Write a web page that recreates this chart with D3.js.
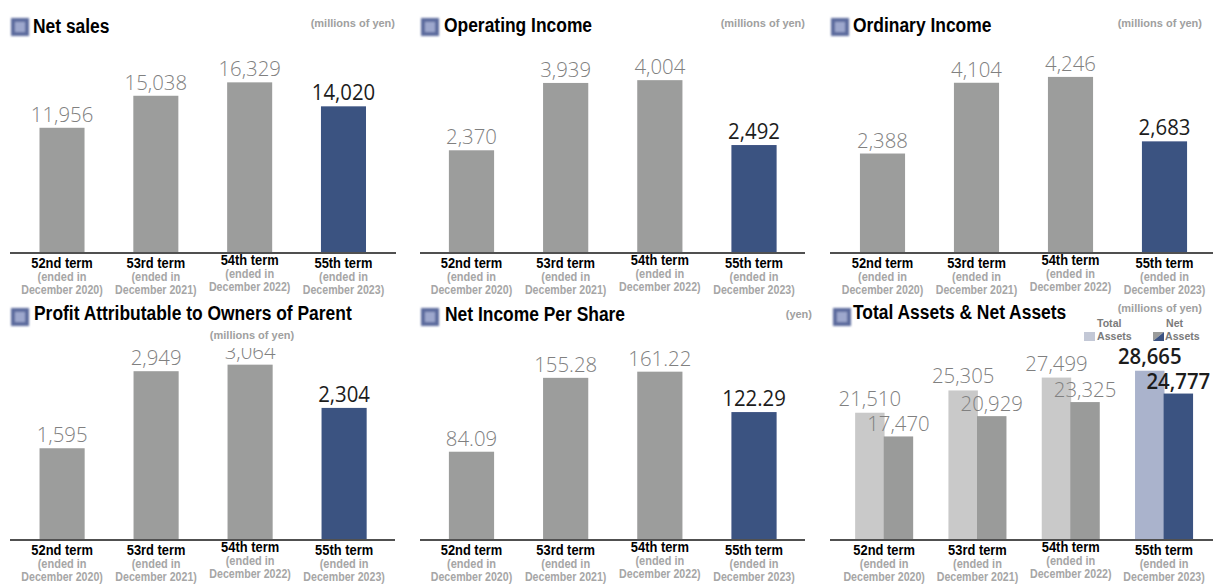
<!DOCTYPE html>
<html><head><meta charset="utf-8">
<script src="https://cdn.jsdelivr.net/npm/d3@7"></script>
<style>html,body{margin:0;padding:0;background:#fff;} svg{display:block;}</style>
</head><body><svg id="c" width="1213" height="584"></svg>
<script>
// ---------- data ----------
const terms = ["52nd term", "53rd term", "54th term", "55th term"];
const endedLine = ["(ended in", "(ended in", "(ended in", "(ended in"];
const endedDate = ["December 2020)", "December 2021)", "December 2022)", "December 2023)"];
const netSales = [11956, 15038, 16329, 14020];
const operatingIncome = [2370, 3939, 4004, 2492];
const ordinaryIncome = [2388, 4104, 4246, 2683];
const profitOwners = [1595, 2949, 3064, 2304];
const netIncomePerShare = [84.09, 155.28, 161.22, 122.29];
const totalAssets = [21510, 25305, 27499, 28665];
const netAssets = [17470, 20929, 23325, 24777];
const titles = ["Net sales", "Operating Income", "Ordinary Income",
  "Profit Attributable to Owners of Parent", "Net Income Per Share", "Total Assets & Net Assets"];
const units = ["(millions of yen)", "(millions of yen)", "(millions of yen)",
  "(millions of yen)", "(yen)", "(millions of yen)"];
const legendLabels = [["Total", "Assets"], ["Net", "Assets"]];

// ---------- layout / style ----------
const FONT = "'Liberation Sans', Arial, Helvetica, sans-serif";
const NUMFONT = "'Open Sans', 'Liberation Sans', Arial, sans-serif";
const C = { bar: "#9c9d9c", navy: "#3b5281", light: "#c9c9c9", lightBlue: "#aab3cc",
  netGray: "#9a9b9a", val: "#808080", valDark: "#1c1c1c", sub: "#a6a6a6", axis: "#505050" };
const catDy = [0, 0, -3, 0];

const panels = [
  { values: netSales, fmt: d3.format(","), icon: [11, 18], title: [33, 33], unit: [395, 27, "end"],
    base: 252, ymax: 19250, band: [15.1, 390.4], axis: [10, 396] },
  { values: operatingIncome, fmt: d3.format(","), icon: [421, 18], title: [444, 32], unit: [805, 27, "end"],
    base: 252, ymax: 4660, band: [424.4, 801.1], axis: [420, 805] },
  { values: ordinaryIncome, fmt: d3.format(","), icon: [831, 18], title: [853, 32], unit: [1202, 27, "end"],
    base: 252, ymax: 4850, band: [835.5, 1211.5], axis: [830, 1213] },
  { values: profitOwners, fmt: d3.format(","), icon: [11, 308], title: [34, 320], unit: [252, 339, "middle"],
    base: 539, ymax: 3515, band: [15.1, 391.1], axis: [10, 395], clipTop: 348 },
  { values: netIncomePerShare, fmt: d3.format(".2f"), icon: [421, 308], title: [445, 321], unit: [812, 318, "end"],
    base: 539, ymax: 192.7, band: [424.4, 801.1], axis: [420, 805] },
  { grouped: true, values: totalAssets, values2: netAssets, fmt: d3.format(","), icon: [833, 308], title: [853, 319],
    unit: [1202, 312, "end"], base: 539, ymax: 34070, band: [837.5, 1210.7], axis: [830, 1213] }
];

const svg = d3.select("#c");
svg.append("rect").attr("width", 1213).attr("height", 584).attr("fill", "#fff");
const defs = svg.append("defs");
defs.append("filter").attr("id", "soft").append("feGaussianBlur").attr("stdDeviation", 0.8);
defs.append("filter").attr("id", "soft2").append("feGaussianBlur").attr("stdDeviation", 0.35);

function txt(g, x, y, s, o) {
  return g.append("text")
    .attr("transform", `translate(${x},${y}) scale(${o.sx || 1},1)`)
    .attr("text-anchor", o.anchor || "start")
    .attr("font-family", o.family || FONT)
    .attr("font-size", o.size)
    .attr("font-weight", o.weight || "normal")
    .attr("fill", o.fill || "#000")
    .text(s);
}

panels.forEach((p, pi) => {
  const g = svg.append("g");
  const x = d3.scaleBand().domain(terms).range(p.band).paddingInner(p.grouped ? 0.378 : 0.52).paddingOuter(p.grouped ? 0.189 : 0.26);
  const y = d3.scaleLinear().domain([0, p.ymax]).range([p.base, p.base - 200]);

  // bars
  const barsG = g.append("g").attr("filter", "url(#soft2)");
  if (!p.grouped) {
    barsG.selectAll("rect").data(p.values).join("rect")
      .attr("x", (d, i) => x(terms[i])).attr("width", x.bandwidth())
      .attr("y", d => y(d)).attr("height", d => y(0) - y(d))
      .attr("fill", (d, i) => i === terms.length - 1 ? C.navy : C.bar);
  } else {
    const x1 = d3.scaleBand().domain(["total", "net"]).range([0, x.bandwidth()]).paddingInner(-0.03);
    const rows = terms.map((t, i) => ({ t, i, total: p.values[i], net: p.values2[i] }));
    const grp = barsG.selectAll("g").data(rows).join("g").attr("transform", d => `translate(${x(d.t)},0)`);
    grp.append("rect").attr("x", x1("total")).attr("width", x1.bandwidth())
      .attr("y", d => y(d.total)).attr("height", d => y(0) - y(d.total))
      .attr("fill", d => d.i === terms.length - 1 ? C.lightBlue : C.light);
    grp.append("rect").attr("x", x1("net")).attr("width", x1.bandwidth())
      .attr("y", d => y(d.net)).attr("height", d => y(0) - y(d.net))
      .attr("fill", d => d.i === terms.length - 1 ? C.navy : C.netGray);
    p.sub = x1;
  }

  // axis baseline
  g.append("line").attr("x1", p.axis[0]).attr("x2", p.axis[1]).attr("y1", p.base + 1).attr("y2", p.base + 1)
    .attr("stroke", C.axis).attr("stroke-width", 2);

  // value labels
  const last = terms.length - 1;
  let vg = g.append("g");
  if (p.clipTop) {
    defs.append("clipPath").attr("id", "clip" + pi).append("rect")
      .attr("x", p.axis[0]).attr("y", p.clipTop).attr("width", p.axis[1] - p.axis[0]).attr("height", p.base - p.clipTop);
    vg.attr("clip-path", `url(#clip${pi})`);
  }
  const valStyle = (i, grouped) => ({
    anchor: "middle", size: 21, family: NUMFONT, sx: 0.97,
    weight: i === last ? (grouped ? 600 : 400) : 300,
    fill: i === last ? C.valDark : C.val
  });
  if (!p.grouped) {
    p.values.forEach((v, i) => {
      txt(vg, x(terms[i]) + x.bandwidth() / 2, y(v) - 6, p.fmt(v), valStyle(i, false));
    });
  } else {
    p.values.forEach((v, i) => {
      txt(vg, x(terms[i]) + p.sub("total") + p.sub.bandwidth() / 2, y(v) - 7, p.fmt(v), valStyle(i, true));
    });
    p.values2.forEach((v, i) => {
      txt(vg, x(terms[i]) + p.sub("net") + p.sub.bandwidth() / 2, y(v) - 5, p.fmt(v), valStyle(i, true));
    });
  }

  // category labels
  terms.forEach((t, i) => {
    const cx = x(t) + x.bandwidth() / 2;
    const b = p.base + catDy[i];
    txt(g, cx, b + 16, t, { anchor: "middle", size: 15, weight: "bold", sx: 0.86, fill: "#000" });
    txt(g, cx, b + 29, endedLine[i], { anchor: "middle", size: 12.5, weight: "bold", sx: 0.88, fill: C.sub });
    txt(g, cx, b + 42, endedDate[i], { anchor: "middle", size: 12.5, weight: "bold", sx: 0.85, fill: C.sub });
  });

  // icon
  const ic = g.append("g").attr("filter", "url(#soft)");
  ic.append("rect").attr("x", p.icon[0]).attr("y", p.icon[1]).attr("width", 18).attr("height", 18).attr("fill", "#5c6b9d");
  ic.append("rect").attr("x", p.icon[0] + 4).attr("y", p.icon[1] + 4).attr("width", 10).attr("height", 10).attr("fill", "#9ea8cd");

  // title
  txt(g, p.title[0], p.title[1], titles[pi], { size: 21, weight: "bold", sx: 0.83, fill: "#000" });
  // unit
  txt(g, p.unit[0], p.unit[1], units[pi], { anchor: p.unit[2], size: 11, weight: "bold", sx: 1, fill: "#a0a0a0" });

  // legend for grouped panel
  if (p.grouped) {
    const lg = g.append("g");
    lg.append("rect").attr("x", 1084).attr("y", 332).attr("width", 11).attr("height", 9).attr("fill", "#c3c8d6");
    lg.append("path").attr("d", "M1153,332 h11 l-11,9 z").attr("fill", "#9a9b9a");
    lg.append("path").attr("d", "M1164,332 v9 h-11 z").attr("fill", C.navy);
    const ls = { size: 11.5, weight: "bold", sx: 0.92, fill: "#7a7a7a" };
    txt(lg, 1097, 327, legendLabels[0][0], ls);
    txt(lg, 1097, 340, legendLabels[0][1], ls);
    txt(lg, 1166, 327, legendLabels[1][0], ls);
    txt(lg, 1165, 340, legendLabels[1][1], ls);
  }
});
</script></body></html>
